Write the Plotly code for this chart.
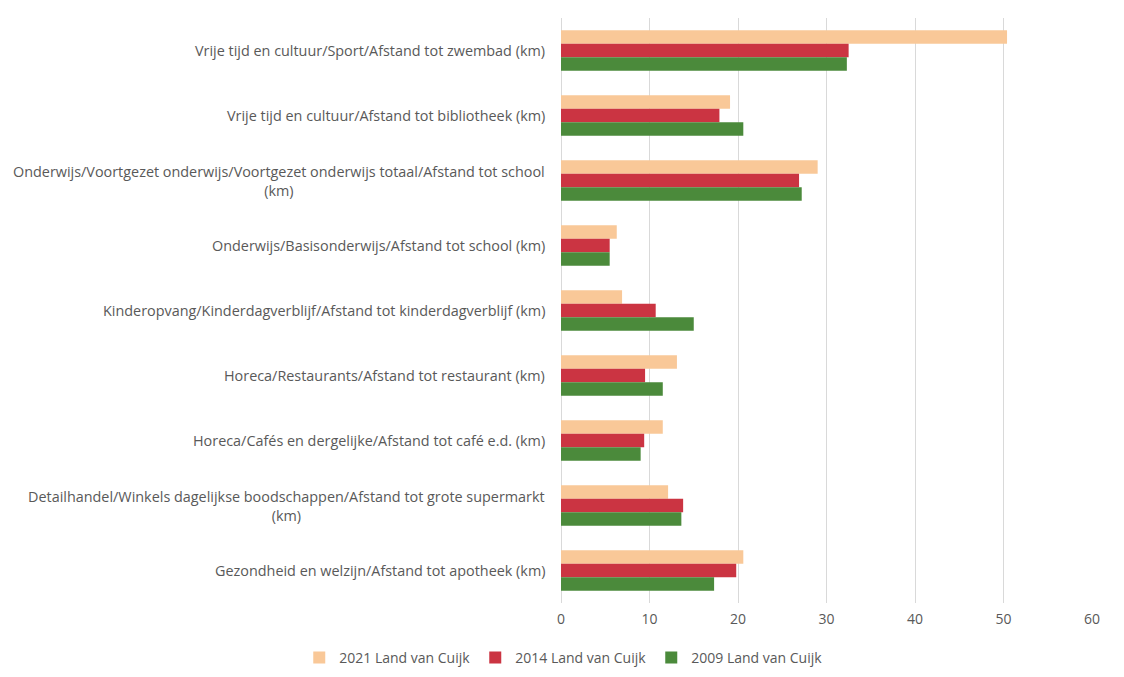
import plotly.graph_objects as go

categories = [
    "Vrije tijd en cultuur/Sport/Afstand tot zwembad (km)",
    "Vrije tijd en cultuur/Afstand tot bibliotheek (km)",
    "Onderwijs/Voortgezet onderwijs/Voortgezet onderwijs totaal/Afstand tot school<br>(km)",
    "Onderwijs/Basisonderwijs/Afstand tot school (km)",
    "Kinderopvang/Kinderdagverblijf/Afstand tot kinderdagverblijf (km)",
    "Horeca/Restaurants/Afstand tot restaurant (km)",
    "Horeca/Cafés en dergelijke/Afstand tot café e.d. (km)",
    "Detailhandel/Winkels dagelijkse boodschappen/Afstand tot grote supermarkt<br>(km)",
    "Gezondheid en welzijn/Afstand tot apotheek (km)",
]
series_names = ["2021 Land van Cuijk", "2014 Land van Cuijk", "2009 Land van Cuijk"]
v2021 = [50.4, 19.1, 29.0, 6.3, 6.9, 13.1, 11.5, 12.1, 20.6]
v2014 = [32.5, 17.9, 26.9, 5.5, 10.7, 9.5, 9.4, 13.8, 19.8]
v2009 = [32.3, 20.6, 27.2, 5.5, 15.0, 11.5, 9.0, 13.6, 17.3]
x_ticks = [0, 10, 20, 30, 40, 50, 60]

colors = ["#F9C898", "#CB3442", "#4B8A3B"]
font = "Open Sans, Liberation Sans, sans-serif"
grey = "#595959"

fig = go.Figure()
for name, vals, col in zip(series_names, [v2021, v2014, v2009], colors):
    fig.add_trace(go.Bar(y=categories, x=vals, name=name, orientation="h",
                         marker=dict(color=col, line=dict(width=0))))

for c in categories:
    fig.add_annotation(x=0, xref="paper", y=c, yref="y", text=c, showarrow=False,
                       xanchor="right", align="center", xshift=-14,
                       font=dict(family=font, size=14.4, color=grey))

fig.update_layout(
    barmode="group", bargap=0.38, bargroupgap=0,
    width=1124, height=677,
    margin=dict(l=553, r=40, t=10, b=82),
    plot_bgcolor="white", paper_bgcolor="white",
    font=dict(family=font, size=14, color=grey),
    xaxis=dict(range=[0, 60], tickvals=x_ticks, showgrid=True, gridcolor="#D9D9D9",
               gridwidth=1, zeroline=True, zerolinecolor="#D9D9D9", zerolinewidth=1,
               tickfont=dict(family=font, size=14, color=grey), ticks="",
               ticklabelstandoff=6, fixedrange=True),
    yaxis=dict(autorange="reversed", showticklabels=False, showgrid=False, zeroline=False,
               showline=False, ticks=""),
    legend=dict(orientation="h", x=0.494, xanchor="center", xref="container",
                y=0.04, yanchor="middle", yref="container",
                font=dict(family=font, size=14, color=grey), traceorder="normal",
                itemwidth=30, itemsizing="constant"),
    showlegend=True,
)
fig.write_html("out.html")
